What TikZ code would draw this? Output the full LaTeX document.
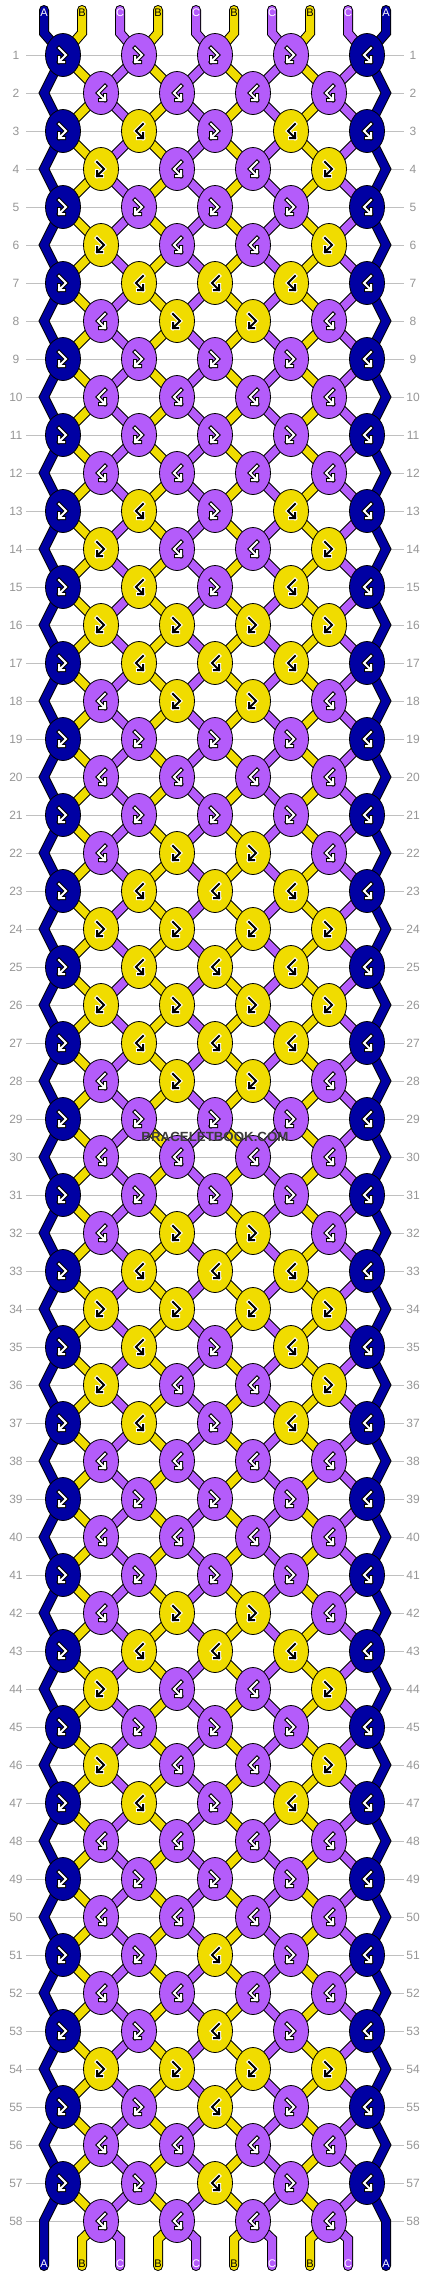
\documentclass[tikz,border=0pt]{standalone}
\usepackage{fontspec}
\setmainfont{Liberation Sans}
\usetikzlibrary{shapes.geometric}
\definecolor{cA}{RGB}{0,0,163}
\definecolor{cB}{RGB}{240,220,0}
\definecolor{cC}{RGB}{180,92,250}
\definecolor{gridc}{RGB}{192,192,192}
\definecolor{numc}{RGB}{150,150,150}
\definecolor{wmc}{RGB}{60,60,60}
\pgfdeclarelayer{grid}
\pgfdeclarelayer{strings}
\pgfsetlayers{grid,strings,main}
\newcommand\glyphFB[2]{%
  \draw[#2,gout] (-4,-7) -- (3,0) -- (-4,7) (-4,2) -- (-4,7) -- (1,7);
  \draw[#1,gin] (-4,-7) -- (3,0) -- (-4,7) (-4,2) -- (-4,7) -- (1,7);}
\newcommand\glyphBF[2]{%
  \draw[#2,gout] (4,-7) -- (-3,0) -- (4,7) (4,2) -- (4,7) -- (-1,7);
  \draw[#1,gin] (4,-7) -- (-3,0) -- (4,7) (4,2) -- (4,7) -- (-1,7);}
\tikzset{
  gout/.style={line width=4pt, line join=miter, line cap=rect},
  gin/.style={line width=2pt, line join=miter, line cap=rect},
  knot/.style={ellipse, draw=black, line width=0.8pt, minimum width=35pt, minimum height=43pt, inner sep=0pt},
  kA/.style={knot, fill=cA},
  kY/.style={knot, fill=cB},
  kP/.style={knot, fill=cC},
  pics/oP/.style={code={\glyphFB{white}{black}}},
  pics/oY/.style={code={\glyphBF{black}{white}}},
  pics/eY/.style={code={\glyphFB{black}{white}}},
  pics/eP/.style={code={\glyphBF{white}{black}}},
  pics/lA/.style={code={\glyphFB{white}{black}}},
  pics/rA/.style={code={\glyphBF{white}{black}}},
  strand/.style={draw=black, line width=1pt, double=#1, double distance=8pt, line join=miter, line cap=round},
  gridline/.style={draw=gridc, line width=1pt},
  num/.style={text=numc, font=\fontsize{12}{12}\selectfont, inner sep=0pt},
  endlab/.style={font=\fontsize{11}{11}\selectfont, inner sep=0pt},
}
\begin{document}
\begin{tikzpicture}[x=1pt, y=-1pt]
\useasboundingbox (0,0) rectangle (430,2276);
\begin{pgfonlayer}{grid}
\fill[white] (0,0) rectangle (430,2276);
\foreach \r in {1,...,58}{
  \pgfmathsetmacro\yy{55+38*(\r-1)}
  \coordinate (gl\r) at (26,\yy);
  \coordinate (gr\r) at (404,\yy);
  \draw[gridline] (gl\r) -- (gr\r);
  \node[num] (nl\r) at (16,\yy) {\r};
  \node[num] (nr\r) at (413,\yy) {\r};
}
\end{pgfonlayer}
% odd rows
\foreach \r/\a/\b/\c in {1/P/P/P, 3/Y/P/Y, 5/P/P/P, 7/Y/Y/Y, 9/P/P/P, 11/P/P/P, 13/Y/P/Y, 15/Y/P/Y, 17/Y/Y/Y, 19/P/P/P, 21/P/P/P, 23/Y/Y/Y, 25/Y/Y/Y, 27/Y/Y/Y, 29/P/P/P, 31/P/P/P, 33/Y/Y/Y, 35/Y/P/Y, 37/Y/P/Y, 39/P/P/P, 41/P/P/P, 43/Y/Y/Y, 45/P/P/P, 47/Y/P/Y, 49/P/P/P, 51/P/Y/P, 53/P/Y/P, 55/P/Y/P, 57/P/Y/P}{
  \pgfmathsetmacro\yy{55+38*(\r-1)}
  \node[kA] (k\r-0) at (63,\yy) {}; \pic at (k\r-0) {lA};
  \node[k\a] (k\r-1) at (139,\yy) {}; \pic at (k\r-1) {o\a};
  \node[k\b] (k\r-2) at (215,\yy) {}; \pic at (k\r-2) {o\b};
  \node[k\c] (k\r-3) at (291,\yy) {}; \pic at (k\r-3) {o\c};
  \node[kA] (k\r-4) at (367,\yy) {}; \pic at (k\r-4) {rA};
  \coordinate (s0-\r) at (k\r-0); \coordinate (s1-\r) at (k\r-0);
  \coordinate (s2-\r) at (k\r-1); \coordinate (s3-\r) at (k\r-1);
  \coordinate (s4-\r) at (k\r-2); \coordinate (s5-\r) at (k\r-2);
  \coordinate (s6-\r) at (k\r-3); \coordinate (s7-\r) at (k\r-3);
  \coordinate (s8-\r) at (k\r-4); \coordinate (s9-\r) at (k\r-4);
}
% even rows
\foreach \r/\a/\b/\c/\d in {2/P/P/P/P, 4/Y/P/P/Y, 6/Y/P/P/Y, 8/P/Y/Y/P, 10/P/P/P/P, 12/P/P/P/P, 14/Y/P/P/Y, 16/Y/Y/Y/Y, 18/P/Y/Y/P, 20/P/P/P/P, 22/P/Y/Y/P, 24/Y/Y/Y/Y, 26/Y/Y/Y/Y, 28/P/Y/Y/P, 30/P/P/P/P, 32/P/Y/Y/P, 34/Y/Y/Y/Y, 36/Y/P/P/Y, 38/P/P/P/P, 40/P/P/P/P, 42/P/Y/Y/P, 44/Y/P/P/Y, 46/Y/P/P/Y, 48/P/P/P/P, 50/P/P/P/P, 52/P/P/P/P, 54/Y/Y/Y/Y, 56/P/P/P/P, 58/P/P/P/P}{
  \pgfmathsetmacro\yy{55+38*(\r-1)}
  \node[k\a] (k\r-0) at (101,\yy) {}; \pic at (k\r-0) {e\a};
  \node[k\b] (k\r-1) at (177,\yy) {}; \pic at (k\r-1) {e\b};
  \node[k\c] (k\r-2) at (253,\yy) {}; \pic at (k\r-2) {e\c};
  \node[k\d] (k\r-3) at (329,\yy) {}; \pic at (k\r-3) {e\d};
  \coordinate (s0-\r) at (44,\yy); \coordinate (s9-\r) at (386,\yy);
  \coordinate (s1-\r) at (k\r-0); \coordinate (s2-\r) at (k\r-0);
  \coordinate (s3-\r) at (k\r-1); \coordinate (s4-\r) at (k\r-1);
  \coordinate (s5-\r) at (k\r-2); \coordinate (s6-\r) at (k\r-2);
  \coordinate (s7-\r) at (k\r-3); \coordinate (s8-\r) at (k\r-3);
}
% strings
\foreach \p/\col/\lab/\tc in {0/cA/A/white, 1/cB/B/black, 2/cC/C/white, 3/cB/B/black, 4/cC/C/white, 5/cB/B/black, 6/cC/C/white, 7/cB/B/black, 8/cC/C/white, 9/cA/A/white}{
  \pgfmathsetmacro\sx{44+38*\p}
  \coordinate (top\p) at (\sx,10);
  \coordinate (tb\p) at (\sx,33);
  \coordinate (bb\p) at (\sx,2239);
  \coordinate (bot\p) at (\sx,2266);
  \begin{pgfonlayer}{strings}
  \draw[strand=\col] (top\p) -- (tb\p) \foreach \r in {1,...,58}{ -- (s\p-\r)} -- (bb\p) -- (bot\p);
  \end{pgfonlayer}
  \node[endlab, text=\tc] (lt\p) at (\sx,13) {\lab};
  \node[endlab, text=\tc] (lb\p) at (\sx,2264) {\lab};
}
\node[font=\bfseries\fontsize{13.3}{14}\selectfont, text=wmc, inner sep=0pt] (wm) at (215,1137) {BRACELETBOOK.COM};
\end{tikzpicture}
\end{document}
